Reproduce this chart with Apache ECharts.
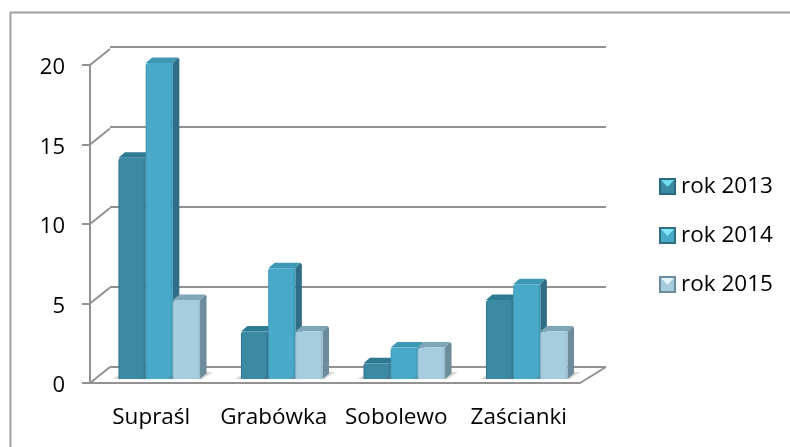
<!DOCTYPE html>
<html>
<head>
<meta charset="utf-8">
<style>
  html, body { margin: 0; padding: 0; background: #fff; }
  #chart { width: 790px; height: 447px; }
</style>
<script src="https://cdn.jsdelivr.net/npm/echarts@6/dist/echarts.min.js"></script>
</head>
<body>
<div id="chart"></div>
<script>
// dane
var categories = ['Supraśl', 'Grabówka', 'Sobolewo', 'Zaścianki'];
var rok2013 = [14, 3, 1, 5];
var rok2014 = [20, 7, 2, 6];
var rok2015 = [5, 3, 2, 3];
var valueTicks = [0, 5, 10, 15, 20];

var font = 'Open Sans';
var axisGray = '#929292';
var depthX = 20, depthY = 16;   // przesuniecie tylnej sciany

// kolory: przod, ciemny bok, gora
var palette = [
  { front: '#3b89a3', edge: '#2f7088', side: '#2b6b80', top: '#2f7a93', light: '#6fdcef' },
  { front: '#48aac8', edge: '#3b96b4', side: '#2f6e85', top: '#3d98b5', light: '#7fe8f6' },
  { front: '#a6cddd', edge: '#93bccd', side: '#6d8c9b', top: '#7ea6b8', light: '#dff3f8' }
];

function legendIcon(c) {
  var svg = '<svg xmlns="http://www.w3.org/2000/svg" width="17" height="17">' +
    '<rect width="17" height="17" fill="' + c.front + '"/>' +
    '<polygon points="2,2 15,2 8.5,9" fill="' + c.light + '"/>' +
    '<rect x="1" y="1" width="15" height="15" fill="none" stroke="' + c.side + '" stroke-width="2"/></svg>';
  return 'image://data:image/svg+xml;charset=utf-8,' + encodeURIComponent(svg);
}

// jeden slupek 3D
function barItem(seriesIdx) {
  return function (params, api) {
    var cat = api.value(0);
    var val = api.value(1);
    var band = api.size([1, 0])[0];
    var w = band * 0.222;
    var base = api.coord([cat, 0]);
    var top = api.coord([cat, val]);
    var c = palette[seriesIdx];
    var x = base[0] + 7.5 + (seriesIdx - 1.5) * w + 0.5;
    var y0 = base[1] - 4;
    var y1 = y0 - (base[1] - top[1]) * 0.994;
    var dx = 6.5, dy = 5.5;
    var children = [
      { // cien na podlodze
        type: 'polygon',
        shape: { points: [[x - 6, y0], [x + w + 2, y0], [x + w + 13, y0 - 7], [x + 6, y0 - 7]] },
        style: { fill: 'rgba(110,100,90,0.22)', shadowBlur: 5, shadowColor: 'rgba(110,100,90,0.3)' }
      },
      {
        type: 'polygon',
        shape: { points: [[x + w, y1], [x + w + dx - 1.5, y1 - dy], [x + w + dx, y1 - dy + 2], [x + w + dx, y0 - dy], [x + w, y0]] },
        style: { fill: c.side }
      },
      {
        type: 'polygon',
        shape: { points: [[x, y1], [x + dx, y1 - dy], [x + w + dx - 1.5, y1 - dy], [x + w, y1]] },
        style: { fill: c.top }
      },
      {
        type: 'rect',
        shape: { x: x, y: y1, width: w, height: y0 - y1, r: [3, 1, 0, 0] },
        style: {
          fill: new echarts.graphic.LinearGradient(0, 0, 1, 0, [
            { offset: 0, color: c.edge },
            { offset: 0.06, color: c.front },
            { offset: 0.9, color: c.front },
            { offset: 1, color: c.edge }
          ])
        }
      }
    ];
    return { type: 'group', children: children };
  };
}

// skosne linie lewej sciany i prawa krawedz podlogi
function wallItem(params, api) {
  var band = api.size([1, 0])[0];
  var p = api.coord([0, api.value(1)]);
  var left = p[0] - band / 2;
  var lines = [{
    type: 'line',
    shape: { x1: left, y1: p[1], x2: left + depthX, y2: p[1] - depthY },
    style: { stroke: axisGray, lineWidth: 2 }
  }];
  if (api.value(1) === 0) {
    var r = api.coord([categories.length - 1, 0]);
    var right = r[0] + band / 2;
    lines.push({
      type: 'line',
      shape: { x1: right, y1: r[1], x2: right + depthX + 6, y2: r[1] - depthY },
      style: { stroke: axisGray, lineWidth: 2 }
    });
  }
  return { type: 'group', children: lines };
}

var seriesNames = ['rok 2013', 'rok 2014', 'rok 2015'];
var seriesValues = [rok2013, rok2014, rok2015];

var series = [{
  type: 'custom',
  name: 'sciana',
  xAxisIndex: 0, yAxisIndex: 0,
  silent: true,
  z: 1,
  renderItem: wallItem,
  data: valueTicks.map(function (v) { return [0, v]; })
}];
seriesValues.forEach(function (vals, i) {
  series.push({
    type: 'custom',
    name: seriesNames[i],
    xAxisIndex: 0, yAxisIndex: 0,
    z: 3 + i,
    itemStyle: { color: palette[i].front },
    renderItem: barItem(i),
    encode: { x: 0, y: 1 },
    data: vals.map(function (v, c) { return [c, v]; })
  });
});

var chart = echarts.init(document.getElementById('chart'), null, { renderer: 'canvas' });
chart.setOption({
  animation: false,
  backgroundColor: '#fff',
  graphic: [{
    type: 'line',
    z: -10,
    shape: { x1: 10, y1: 12.5, x2: 790, y2: 12.5 },
    style: { stroke: '#a0a0a0', lineWidth: 2 }
  }, {
    type: 'line',
    z: -10,
    shape: { x1: 10.5, y1: 12, x2: 10.5, y2: 447 },
    style: { stroke: '#a0a0a0', lineWidth: 2 }
  }],
  legend: {
    orient: 'vertical',
    left: 654,
    top: 170,
    itemWidth: 17,
    itemHeight: 17,
    itemGap: 26,
    selectedMode: false,
    textStyle: { fontFamily: font, fontSize: 22.5, color: '#000', padding: [0, 0, 0, 0] },
    data: seriesNames.map(function (n, i) { return { name: n, icon: legendIcon(palette[i]) }; })
  },
  grid: [
    { left: 90, top: 65, width: 490, height: 318 },
    { left: 110, top: 47, width: 496, height: 320 }
  ],
  xAxis: [{
    type: 'category',
    gridIndex: 0,
    data: categories,
    axisLine: { lineStyle: { color: axisGray, width: 2 } },
    axisTick: { alignWithLabel: false, length: 9, lineStyle: { color: axisGray, width: 2 } },
    axisLabel: { fontFamily: font, fontSize: 22.5, color: '#000', margin: 23, interval: 0 }
  }, {
    type: 'category',
    gridIndex: 1,
    data: categories,
    axisLine: { show: false },
    axisTick: { show: false },
    axisLabel: { show: false }
  }],
  yAxis: [{
    type: 'value',
    gridIndex: 0,
    min: 0, max: 20, interval: 5,
    axisLine: { show: true, lineStyle: { color: axisGray, width: 2 } },
    axisTick: { show: true, length: 8, lineStyle: { color: axisGray, width: 2 } },
    axisLabel: { fontFamily: font, fontSize: 22, color: '#000', margin: 25, verticalAlign: 'top', lineHeight: 22, padding: [-8, 0, 0, 0] },
    splitLine: { show: false }
  }, {
    type: 'value',
    gridIndex: 1,
    min: 0, max: 20, interval: 5,
    axisLine: { show: false },
    axisTick: { show: false },
    axisLabel: { show: false },
    splitLine: { show: true, lineStyle: { color: axisGray, width: 2 } }
  }],
  series: series
});
</script>
</body>
</html>
